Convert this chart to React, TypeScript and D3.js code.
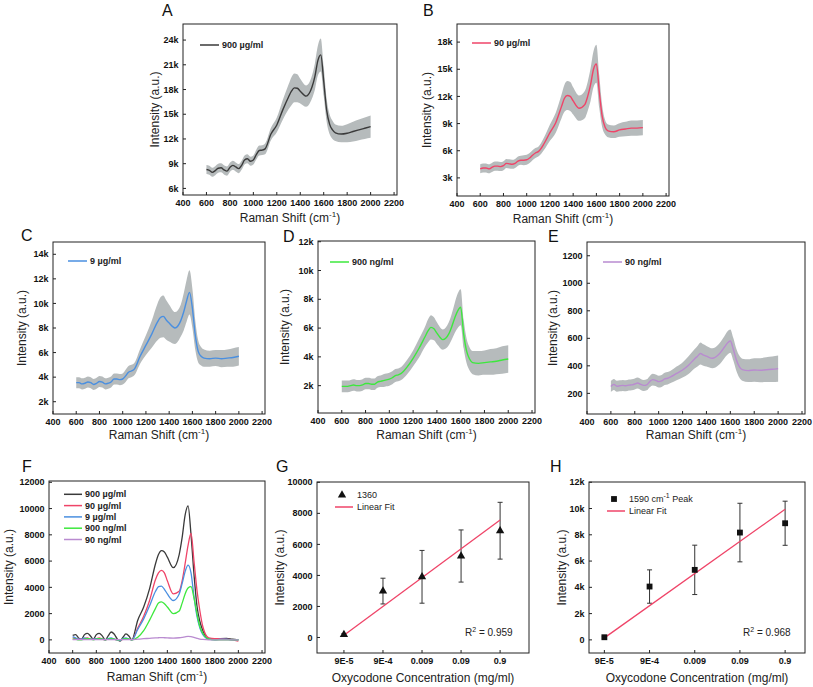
import * as d3 from 'd3'
import type { ReactNode } from 'react'

const FONT = '"Liberation Sans", Arial, Helvetica, sans-serif'

// Raman shift grid (cm-1), shared by all spectra
const shift = [600, 625, 650, 675, 700, 725, 750, 775, 800, 825, 850, 875, 900, 925, 950, 975, 1000, 1025, 1050, 1075, 1100,
  1150, 1200, 1250, 1300, 1325, 1350, 1375, 1400, 1450, 1500, 1525, 1550, 1575, 1600, 1625, 1650, 1675, 1700,
  1750, 1800, 1850, 1900, 1950, 2000]
const shiftTicks = [400, 600, 800, 1000, 1200, 1400, 1600, 1800, 2000, 2200]

// A: 900 µg/ml (k a.u.)
const meanA = [8.3, 8.2, 7.95, 8.15, 8.45, 8.5, 8.25, 8.1, 8.55, 8.8, 8.6, 8.4, 8.8, 9.45, 9.6, 9.3, 9.45, 10.1, 10.6, 10.65, 10.8,
  12.6, 13.7, 15.5, 17.1, 17.8, 18.2, 18.15, 17.8, 17.2, 18.3, 19.6, 21.5, 22.2, 19.0, 15.5, 13.8, 13.1, 12.75,
  12.6, 12.7, 12.9, 13.1, 13.3, 13.5]
const sdA = [0.55, 0.55, 0.55, 0.55, 0.55, 0.55, 0.55, 0.55, 0.55, 0.55, 0.55, 0.55, 0.55, 0.55, 0.55, 0.55, 0.55, 0.6, 0.6, 0.6, 0.65,
  0.75, 0.9, 1.2, 1.5, 1.7, 1.75, 1.7, 1.5, 1.3, 1.4, 1.6, 1.8, 2.0, 1.8, 1.4, 1.2, 1.1, 1.0,
  1.0, 1.1, 1.2, 1.25, 1.3, 1.35]

// B: 90 µg/ml (k a.u.)
const meanB = [4.0, 4.1, 4.1, 4.0, 4.15, 4.3, 4.3, 4.25, 4.35, 4.6, 4.55, 4.5, 4.6, 4.85, 4.95, 4.95, 5.0, 5.2, 5.5, 5.75, 5.9,
  6.8, 8.0, 9.1, 10.9, 11.8, 12.1, 12.0, 11.5, 10.7, 11.1, 12.0, 13.3, 15.0, 15.6, 12.5, 9.8, 8.6, 8.2,
  8.1, 8.3, 8.4, 8.5, 8.5, 8.55]
const sdB = [0.5, 0.5, 0.5, 0.5, 0.5, 0.5, 0.5, 0.5, 0.5, 0.5, 0.5, 0.5, 0.5, 0.5, 0.5, 0.55, 0.55, 0.55, 0.55, 0.55, 0.55,
  0.7, 0.9, 1.1, 1.3, 1.5, 1.6, 1.6, 1.5, 1.4, 1.5, 1.6, 1.8, 2.0, 2.1, 1.8, 1.2, 0.8, 0.7,
  0.7, 0.75, 0.8, 0.85, 0.85, 0.85]

// C: 9 µg/ml (k a.u.)
const meanC = [3.55, 3.55, 3.45, 3.5, 3.6, 3.55, 3.4, 3.5, 3.65, 3.6, 3.45, 3.5, 3.6, 3.85, 3.85, 3.8, 3.85, 4.1, 4.4, 4.5, 4.65,
  5.7, 6.6, 7.5, 8.5, 8.85, 8.95, 8.65, 8.4, 8.0, 8.6, 9.3, 10.2, 10.9, 9.6, 7.4, 6.1, 5.7, 5.55,
  5.5, 5.55, 5.5, 5.55, 5.6, 5.7]
const sdC = [0.45, 0.45, 0.45, 0.45, 0.45, 0.45, 0.45, 0.45, 0.45, 0.45, 0.45, 0.45, 0.45, 0.45, 0.45, 0.45, 0.45, 0.5, 0.5, 0.5, 0.5,
  0.6, 0.8, 1.1, 1.5, 1.65, 1.7, 1.6, 1.5, 1.3, 1.3, 1.5, 1.7, 1.8, 1.6, 1.2, 0.9, 0.75, 0.7,
  0.65, 0.65, 0.7, 0.7, 0.75, 0.75]

// D: 900 ng/ml (k a.u.)
const meanD = [1.95, 1.95, 1.95, 2.0, 2.05, 2.0, 2.0, 2.05, 2.15, 2.15, 2.1, 2.1, 2.25, 2.3, 2.35, 2.4, 2.45, 2.55, 2.7, 2.75, 2.85,
  3.3, 3.9, 4.6, 5.4, 5.8, 6.05, 5.95, 5.65, 5.2, 5.6, 6.1, 6.7, 7.2, 7.45, 5.6, 4.4, 3.85, 3.6,
  3.55, 3.6, 3.65, 3.7, 3.78, 3.85]
const sdD = [0.4, 0.4, 0.4, 0.4, 0.4, 0.4, 0.4, 0.4, 0.4, 0.4, 0.4, 0.4, 0.4, 0.4, 0.45, 0.45, 0.45, 0.45, 0.45, 0.45, 0.45,
  0.5, 0.55, 0.65, 0.7, 0.8, 0.85, 0.8, 0.75, 0.7, 0.8, 0.9, 1.05, 1.2, 1.25, 1.0, 0.85, 0.8, 0.8,
  0.85, 0.85, 0.9, 0.9, 0.95, 0.95]

// E: 90 ng/ml (a.u.)
const meanE = [250, 265, 252, 255, 258, 255, 260, 262, 268, 275, 265, 258, 262, 285, 300, 295, 285, 290, 305, 310, 320,
  345, 370, 405, 450, 470, 490, 478, 470, 455, 480, 505, 535, 565, 580, 520, 445, 395, 372,
  365, 370, 368, 372, 375, 380]
const sdE = [40, 40, 40, 40, 40, 40, 40, 40, 40, 40, 40, 40, 40, 40, 42, 42, 43, 43, 44, 45, 45,
  50, 55, 65, 70, 75, 80, 78, 75, 72, 75, 78, 80, 85, 85, 82, 80, 80, 80,
  82, 85, 88, 90, 92, 95]

// F: baseline-corrected averages (a.u.)
const f900ug = [350, 400, 150, 50, 400, 500, 300, 50, 400, 500, 300, 0, 300, 600, 450, 100, -100, 200, 450, 300, 0,
  1500, 2500, 3900, 5800, 6500, 6800, 6700, 6300, 5500, 6500, 7800, 9500, 10200, 8000, 5000, 2600, 1400, 700,
  50, 50, 100, 120, 50, 0]
const f90ug = [150, 100, 50, 50, 100, 150, 50, 50, 100, 150, 50, 0, 50, 100, 50, 0, -50, 50, 100, 50, 0,
  900, 1800, 3000, 4600, 5100, 5300, 5100, 4500, 3500, 3700, 4500, 5800, 7200, 8100, 6000, 3800, 2200, 1000,
  150, 100, 100, 50, 0, -100]
const f9ug = [250, 150, 50, 50, 150, 100, 50, 50, 100, 100, 50, 0, 100, 150, 50, 0, -50, 100, 150, 50, 0,
  800, 1600, 2600, 3700, 4050, 4100, 3850, 3500, 3000, 3500, 4300, 5200, 5700, 5100, 3300, 1800, 900, 400,
  50, 0, 50, 50, 0, 0]
const f900ng = [50, 50, 0, 0, 50, 100, 50, 0, 50, 100, 50, 0, 50, 100, 50, 0, 0, 50, 100, 50, 0,
  200, 700, 1500, 2400, 2800, 2900, 2750, 2500, 2000, 2200, 2800, 3500, 3950, 4050, 3200, 2000, 1000, 500,
  50, 0, 0, 0, 0, 0]
const f90ng = [20, 20, 20, 20, 20, 20, 20, 20, 20, 20, 20, 20, 20, 20, 20, 20, 20, 20, 20, 20, 20,
  60, 90, 120, 150, 160, 170, 160, 150, 130, 160, 190, 230, 260, 250, 190, 120, 60, 30,
  0, 0, 0, 0, 0, 0]

// G, H: calibration
const concLabels = ['9E-5', '9E-4', '0.009', '0.09', '0.9']
const peak1360 = [190, 2990, 3910, 5250, 6880]
const err1360 = [60, 830, 1700, 1680, 1830]
const fit1360 = { intercept: 150, slope: 1855 }
const peak1590 = [200, 4060, 5330, 8170, 8880]
const err1590 = [60, 1270, 1880, 2230, 1680]
const fit1590 = { intercept: 150, slope: 2448 }

const COL = {
  gray: '#3a3a3a',
  red: '#ef4468',
  blue: '#4a8fe0',
  green: '#3de83d',
  purple: '#b98bd0',
  band: '#b6bbbc',
}

type Box = { l: number; r: number; t: number; b: number }
type Scale = d3.ScaleLinear<number, number>

const ramanTitle = (
  <>
    Raman Shift (cm<tspan dy={-5} fontSize={8}>-1</tspan>
    <tspan dy={5}>)</tspan>
  </>
)

function Frame({ box, x, y, xTicks, xFmt, yTicks, yFmt, yTitleX, xTitleY, xTitle }: {
  box: Box; x: Scale; y: Scale; xTicks: number[]; xFmt: (v: number) => string
  yTicks: number[]; yFmt: (v: number) => string; yTitleX: number; xTitleY: number; xTitle: ReactNode
}) {
  return (
    <g fontFamily={FONT}>
      <rect x={box.l} y={box.t} width={box.r - box.l} height={box.b - box.t} fill="none" stroke="#222" strokeWidth={1} />
      {yTicks.map((v) => (
        <g key={'y' + v}>
          <line x1={box.l} x2={box.l + 3} y1={y(v)} y2={y(v)} stroke="#222" />
          <text x={box.l - 4.5} y={y(v)} dy="0.35em" textAnchor="end" fontSize={9} fontWeight="bold" fill="#111">
            {yFmt(v)}
          </text>
        </g>
      ))}
      {xTicks.map((v) => (
        <g key={'x' + v}>
          <line x1={x(v)} x2={x(v)} y1={box.b} y2={box.b - 3} stroke="#222" />
          <text x={x(v)} y={box.b + 11} textAnchor="middle" fontSize={9} fontWeight="bold" fill="#111">
            {xFmt(v)}
          </text>
        </g>
      ))}
      <text transform={`translate(${yTitleX},${(box.t + box.b) / 2}) rotate(-90)`} dy="0.35em" textAnchor="middle" fontSize={12} fill="#222">
        Intensity (a.u.)
      </text>
      <text x={(box.l + box.r) / 2} y={xTitleY} textAnchor="middle" fontSize={12} fill="#222">
        {xTitle}
      </text>
    </g>
  )
}

function Letter({ x, y, t }: { x: number; y: number; t: string }) {
  return (
    <text x={x} y={y} fontFamily={FONT} fontSize={16} fill="#111">
      {t}
    </text>
  )
}

type P = { s: number; m: number; d: number }

function SpectrumPanel({ box, yDomain, yTicks, unit, mean, sd, color, name, yTitleX, xTitleY, legendDx, legendDy }: {
  box: Box; yDomain: [number, number]; yTicks: number[]; unit: string; mean: number[]; sd: number[]
  color: string; name: string; yTitleX: number; xTitleY: number; legendDx: number; legendDy: number
}) {
  const x = d3.scaleLinear().domain([400, 2225]).range([box.l, box.r])
  const y = d3.scaleLinear().domain(yDomain).range([box.b, box.t])
  const pts: P[] = shift.map((s, i) => ({ s, m: mean[i], d: sd[i] }))
  const area = d3.area<P>().x((p) => x(p.s)).y0((p) => y(p.m - p.d)).y1((p) => y(p.m + p.d)).curve(d3.curveMonotoneX)
  const line = d3.line<P>().x((p) => x(p.s)).y((p) => y(p.m)).curve(d3.curveMonotoneX)
  const lx = box.l + legendDx
  const ly = box.t + legendDy
  return (
    <g>
      <path d={area(pts) || ''} fill={COL.band} />
      <path d={line(pts) || ''} fill="none" stroke={color} strokeWidth={1.4} />
      <Frame box={box} x={x} y={y} xTicks={shiftTicks} xFmt={String} yTicks={yTicks}
        yFmt={(v) => `${v}${unit}`} yTitleX={yTitleX} xTitleY={xTitleY} xTitle={ramanTitle} />
      <line x1={lx} x2={lx + 19} y1={ly} y2={ly} stroke={color} strokeWidth={1.5} />
      <text x={lx + 22} y={ly} dy="0.35em" fontFamily={FONT} fontSize={9} fontWeight="bold" fill="#222">{name}</text>
    </g>
  )
}

const fSeries = [
  { name: '900 µg/ml', values: f900ug, color: COL.gray },
  { name: '90 µg/ml', values: f90ug, color: COL.red },
  { name: '9 µg/ml', values: f9ug, color: COL.blue },
  { name: '900 ng/ml', values: f900ng, color: COL.green },
  { name: '90 ng/ml', values: f90ng, color: COL.purple },
]

function OverlayPanel() {
  const box: Box = { l: 49, r: 265, t: 481, b: 653 }
  const x = d3.scaleLinear().domain([400, 2225]).range([box.l, box.r])
  const y = d3.scaleLinear().domain([-1000, 12100]).range([box.b, box.t])
  const line = d3.line<number>().x((_, i) => x(shift[i])).y((v) => y(v)).curve(d3.curveMonotoneX)
  return (
    <g>
      {fSeries.map((s) => (
        <path key={s.name} d={line(s.values) || ''} fill="none" stroke={s.color} strokeWidth={1.3} />
      ))}
      <Frame box={box} x={x} y={y} xTicks={shiftTicks} xFmt={String} yTicks={[0, 2000, 4000, 6000, 8000, 10000, 12000]}
        yFmt={String} yTitleX={9} xTitleY={681} xTitle={ramanTitle} />
      {fSeries.map((s, i) => {
        const ly = box.t + 13.3 + i * 11.3
        return (
          <g key={'lg' + s.name}>
            <line x1={box.l + 15} x2={box.l + 33} y1={ly} y2={ly} stroke={s.color} strokeWidth={1.5} />
            <text x={box.l + 36} y={ly} dy="0.35em" fontFamily={FONT} fontSize={9} fontWeight="bold" fill="#222">{s.name}</text>
          </g>
        )
      })}
    </g>
  )
}

function CalibPanel({ box, xDomain, yDomain, yTicks, yFmt, values, errs, fit, marker, legendName, r2, yTitleX, legendX, legendY, r2X }: {
  box: Box; xDomain: [number, number]; yDomain: [number, number]; yTicks: number[]; yFmt: (v: number) => string
  values: number[]; errs: number[]; fit: { intercept: number; slope: number }; marker: 'triangle' | 'square'
  legendName: ReactNode; r2: string; yTitleX: number; legendX: number; legendY: number; r2X: number
}) {
  const x = d3.scaleLinear().domain(xDomain).range([box.l, box.r])
  const y = d3.scaleLinear().domain(yDomain).range([box.b, box.t])
  const idx = concLabels.map((_, i) => i)
  const sym = d3.symbol().type(marker === 'triangle' ? d3.symbolTriangle : d3.symbolSquare).size(marker === 'triangle' ? 30 : 34)()
  const fitLine = d3.line<number>().x((i) => x(i)).y((i) => y(fit.intercept + fit.slope * i))
  return (
    <g>
      <Frame box={box} x={x} y={y} xTicks={idx} xFmt={(i) => concLabels[i]} yTicks={yTicks} yFmt={yFmt}
        yTitleX={yTitleX} xTitleY={682} xTitle="Oxycodone Concentration (mg/ml)" />
      {idx.map((i) => {
        const cx = x(i)
        const hi = y(values[i] + errs[i])
        const lo = y(values[i] - errs[i])
        return (
          <g key={'e' + i} stroke="#333" strokeWidth={1}>
            <line x1={cx} x2={cx} y1={hi} y2={lo} />
            <line x1={cx - 2.5} x2={cx + 2.5} y1={hi} y2={hi} />
            <line x1={cx - 2.5} x2={cx + 2.5} y1={lo} y2={lo} />
          </g>
        )
      })}
      <path d={fitLine([0, 4]) || ''} fill="none" stroke={COL.red} strokeWidth={1.3} />
      {idx.map((i) => (
        <path key={'m' + i} d={sym || ''} transform={`translate(${x(i)},${y(values[i])})`} fill="#111" />
      ))}
      <path d={sym || ''} transform={`translate(${legendX + 7},${legendY})`} fill="#111" />
      <text x={legendX + 22} y={legendY} dy="0.35em" fontFamily={FONT} fontSize={9} fill="#222">{legendName}</text>
      <line x1={legendX} x2={legendX + 18} y1={legendY + 12} y2={legendY + 12} stroke={COL.red} strokeWidth={1.5} />
      <text x={legendX + 22} y={legendY + 12} dy="0.35em" fontFamily={FONT} fontSize={9} fill="#222">Linear Fit</text>
      <text x={r2X} y={box.b - 17} fontFamily={FONT} fontSize={10} fill="#222">
        R<tspan dy={-4} fontSize={7}>2</tspan>
        <tspan dy={4}> = {r2}</tspan>
      </text>
    </g>
  )
}

export default function App() {
  return (
    <div style={{ position: 'absolute', left: 0, top: 0 }}>
      <svg width={813} height={687} style={{ display: 'block', background: '#fff' }}>
        <Letter x={162} y={16} t="A" />
        <SpectrumPanel box={{ l: 183, r: 397, t: 24, b: 195 }} yDomain={[5.2, 25.95]} yTicks={[6, 9, 12, 15, 18, 21, 24]} unit="k"
          mean={meanA} sd={sdA} color={COL.gray} name="900 µg/ml" yTitleX={155} xTitleY={222} legendDx={17} legendDy={21} />

        <Letter x={423} y={16} t="B" />
        <SpectrumPanel box={{ l: 457, r: 669, t: 24, b: 196 }} yDomain={[1, 20]} yTicks={[3, 6, 9, 12, 15, 18]} unit="k"
          mean={meanB} sd={sdB} color={COL.red} name="90 µg/ml" yTitleX={427} xTitleY={223} legendDx={15} legendDy={19} />

        <Letter x={21} y={241} t="C" />
        <SpectrumPanel box={{ l: 53, r: 265, t: 242, b: 414 }} yDomain={[1, 15]} yTicks={[2, 4, 6, 8, 10, 12, 14]} unit="k"
          mean={meanC} sd={sdC} color={COL.blue} name="9 µg/ml" yTitleX={22} xTitleY={439} legendDx={15} legendDy={19} />

        <Letter x={283} y={242} t="D" />
        <SpectrumPanel box={{ l: 318, r: 535, t: 241, b: 413 }} yDomain={[0.1, 12.05]} yTicks={[2, 4, 6, 8, 10, 12]} unit="k"
          mean={meanD} sd={sdD} color={COL.green} name="900 ng/ml" yTitleX={285} xTitleY={439} legendDx={12} legendDy={21} />

        <Letter x={548} y={242} t="E" />
        <SpectrumPanel box={{ l: 587, r: 805, t: 242, b: 414 }} yDomain={[50, 1300]} yTicks={[200, 400, 600, 800, 1000, 1200]} unit=""
          mean={meanE} sd={sdE} color={COL.purple} name="90 ng/ml" yTitleX={553} xTitleY={439} legendDx={16} legendDy={20} />

        <Letter x={22} y={472} t="F" />
        <OverlayPanel />

        <Letter x={276} y={472} t="G" />
        <CalibPanel box={{ l: 317, r: 529, t: 482, b: 653 }} xDomain={[-0.69, 4.74]} yDomain={[-1000, 10020]}
          yTicks={[0, 2000, 4000, 6000, 8000, 10000]} yFmt={String} values={peak1360} errs={err1360} fit={fit1360}
          marker="triangle" legendName="1360" r2="0.959" yTitleX={280} legendX={335} legendY={495} r2X={465} />

        <Letter x={550} y={472} t="H" />
        <CalibPanel box={{ l: 589, r: 805, t: 482, b: 653 }} xDomain={[-0.34, 4.44]} yDomain={[-1000, 12020]}
          yTicks={[0, 2000, 4000, 6000, 8000, 10000, 12000]} yFmt={(v) => (v === 0 ? '0' : `${v / 1000}k`)}
          values={peak1590} errs={err1590} fit={fit1590} marker="square"
          legendName={<>1590 cm<tspan dy={-4} fontSize={7}>-1</tspan><tspan dy={4}> Peak</tspan></>}
          r2="0.968" yTitleX={562} legendX={607} legendY={499} r2X={743} />
      </svg>
    </div>
  )
}
